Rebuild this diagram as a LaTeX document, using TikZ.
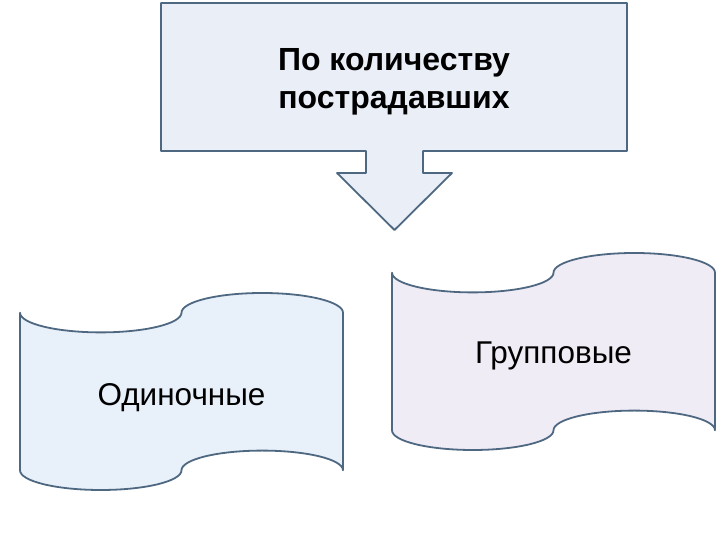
\documentclass[tikz,border=0pt]{standalone}
\usepackage{fontspec}
\setmainfont{Liberation Sans}
\definecolor{edgec}{HTML}{4F6881}
\definecolor{topfill}{HTML}{E9EEF7}
\definecolor{leftfill}{HTML}{E8F0FA}
\definecolor{rightfill}{HTML}{F0ECF6}
\tikzset{
  shapeline/.style={draw=edgec, line width=1.8pt, line join=round},
  lbl/.style={inner sep=0pt, align=center, text=black},
}
\begin{document}
\begin{tikzpicture}[x=1pt,y=1pt]
\useasboundingbox (0,0) rectangle (720,540);
% callout box with down arrow (screen y -> 540-y)
\draw[shapeline, fill=topfill]
  (161,537) -- (627,537) -- (627,389) -- (423,389) -- (423,367) -- (452,367)
  -- (394.5,310) -- (337,367) -- (366,367) -- (366,389) -- (161,389) -- cycle;
\node[lbl, font=\bfseries\fontsize{32}{38}\selectfont] (title) at (394,458) {По количеству\\пострадавших};
% left punched tape
\draw[shapeline, fill=leftfill]
  (20,227.3) arc[start angle=180, end angle=360, x radius=80.75, y radius=19.7]
  arc[start angle=180, end angle=0, x radius=80.75, y radius=19.7]
  -- (343,69.7)
  arc[start angle=0, end angle=180, x radius=80.75, y radius=19.7]
  arc[start angle=0, end angle=-180, x radius=80.75, y radius=19.7]
  -- cycle;
\node[lbl, font=\fontsize{31.5}{36}\selectfont] (single) at (181.5,142) {Одиночные};
% right punched tape
\draw[shapeline, fill=rightfill]
  (392,267.3) arc[start angle=180, end angle=360, x radius=80.75, y radius=19.7]
  arc[start angle=180, end angle=0, x radius=80.75, y radius=19.7]
  -- (715,109.7)
  arc[start angle=0, end angle=180, x radius=80.75, y radius=19.7]
  arc[start angle=0, end angle=-180, x radius=80.75, y radius=19.7]
  -- cycle;
\node[lbl, font=\fontsize{31.5}{36}\selectfont] (group) at (553.5,184) {Групповые};
\end{tikzpicture}
\end{document}
